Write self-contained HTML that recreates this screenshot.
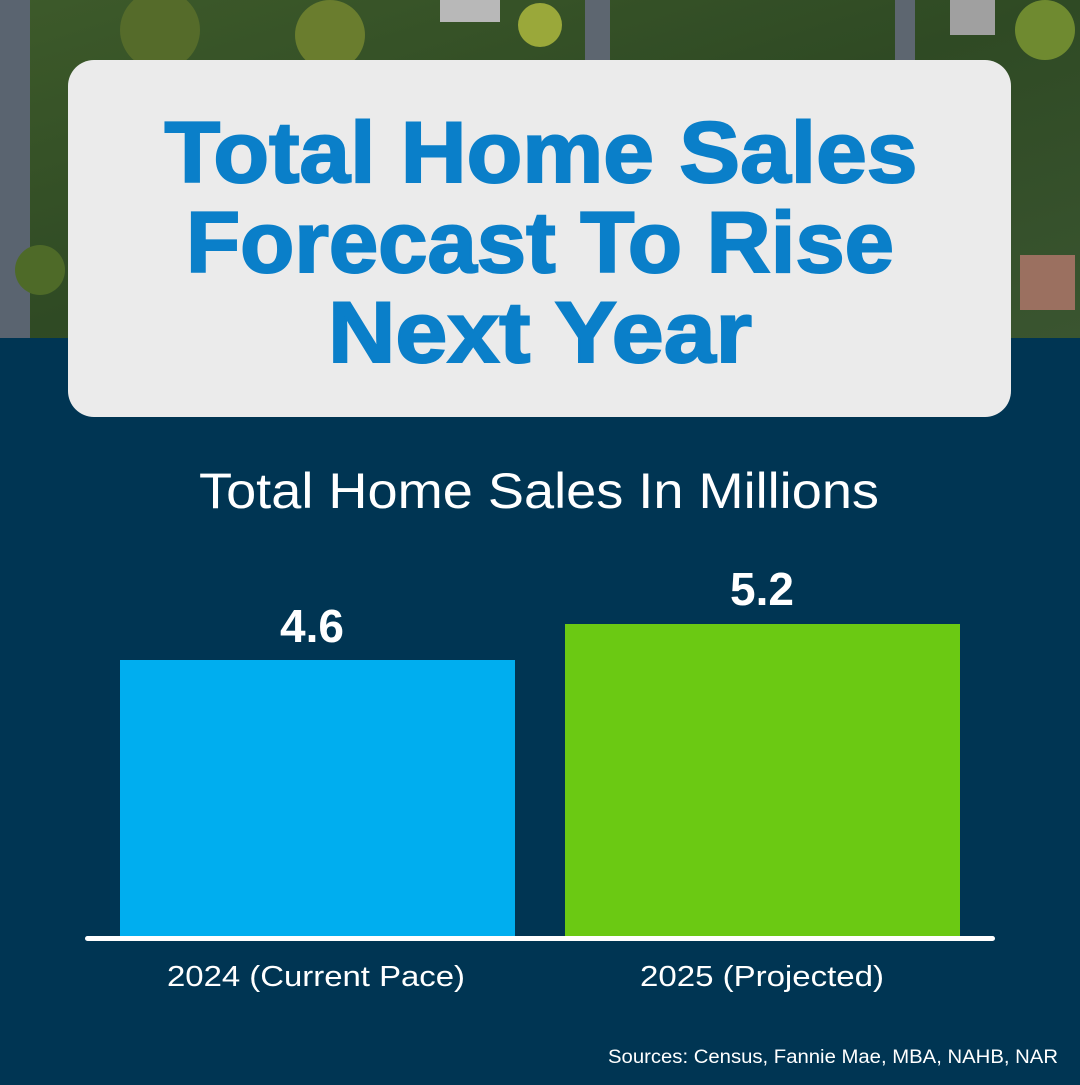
<!DOCTYPE html>
<html><head><meta charset="utf-8"><style>
html,body{margin:0;padding:0;}
body{width:1080px;height:1080px;overflow:hidden;background:#003553;font-family:"Liberation Sans",sans-serif;}
</style></head><body>
<svg width="1080" height="1080" viewBox="0 0 1080 1080" xmlns="http://www.w3.org/2000/svg">
<defs>
<linearGradient id="g" x1="0" y1="0" x2="1" y2="1">
<stop offset="0" stop-color="#3d5a2a"/><stop offset="0.5" stop-color="#2f4a24"/><stop offset="1" stop-color="#3a5530"/>
</linearGradient>
</defs>
<rect width="1080" height="1080" fill="#003553"/>
<rect width="1080" height="338" fill="url(#g)"/>
<rect x="0" y="0" width="30" height="338" fill="#5a6470"/>
<rect x="585" y="0" width="25" height="60" fill="#5d6670"/>
<rect x="895" y="0" width="20" height="60" fill="#5d6670"/>
<circle cx="160" cy="30" r="40" fill="#556b2a"/>
<circle cx="330" cy="35" r="35" fill="#6a7d2e"/>
<circle cx="540" cy="25" r="22" fill="#9aa83a"/>
<circle cx="1045" cy="30" r="30" fill="#6f8a30"/>
<circle cx="40" cy="270" r="25" fill="#4e6a28"/>
<rect x="440" y="0" width="60" height="22" fill="#b8b8b8"/>
<rect x="950" y="0" width="45" height="35" fill="#a0a0a0"/>
<rect x="1020" y="255" width="55" height="55" fill="#9b7060"/>
<rect x="68" y="60" width="943" height="357" rx="26" fill="#ebebeb"/>
<g fill="#0a7fc9" stroke="#0a7fc9" stroke-width="2" font-weight="bold" font-size="86" text-anchor="middle" font-family="Liberation Sans, sans-serif">
<text x="541" y="182" textLength="753" lengthAdjust="spacingAndGlyphs">Total Home Sales</text>
<text x="540" y="272" textLength="708" lengthAdjust="spacingAndGlyphs">Forecast To Rise</text>
<text x="540" y="362" textLength="424" lengthAdjust="spacingAndGlyphs">Next Year</text>
</g>
<text x="539" y="508" fill="#fff" font-size="50" text-anchor="middle" textLength="680" lengthAdjust="spacingAndGlyphs">Total Home Sales In Millions</text>
<rect x="120" y="660" width="395" height="279" fill="#00aeef"/>
<rect x="565" y="624" width="395" height="315" fill="#6bc913"/>
<rect x="85" y="936" width="910" height="5" rx="2.5" fill="#fff"/>
<text x="312" y="642" fill="#fff" font-size="46" font-weight="bold" text-anchor="middle">4.6</text>
<text x="762" y="605" fill="#fff" font-size="46" font-weight="bold" text-anchor="middle">5.2</text>
<text x="316" y="986" fill="#fff" font-size="29" text-anchor="middle" textLength="298" lengthAdjust="spacingAndGlyphs">2024 (Current Pace)</text>
<text x="762" y="986" fill="#fff" font-size="29" text-anchor="middle" textLength="244" lengthAdjust="spacingAndGlyphs">2025 (Projected)</text>
<text x="1058" y="1063" fill="#fff" font-size="19" text-anchor="end" textLength="450" lengthAdjust="spacingAndGlyphs">Sources: Census, Fannie Mae, MBA, NAHB, NAR</text>
</svg>
</body></html>
